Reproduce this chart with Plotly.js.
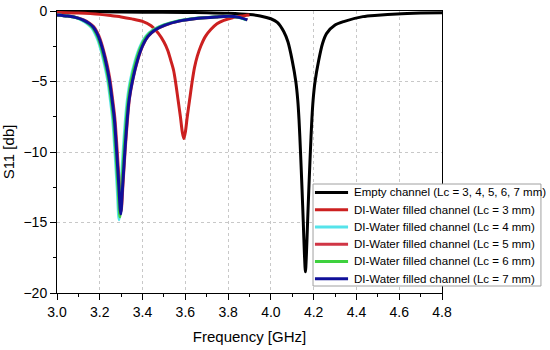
<!DOCTYPE html>
<html>
<head>
<meta charset="utf-8">
<script src="https://cdn.plot.ly/plotly-3.0.1.min.js"></script>
<style>html,body{margin:0;padding:0;background:#fff;}#chart{width:550px;height:350px;}</style>
</head>
<body>
<div id="chart"></div>
<script>
// Empty channel (Lc = 3..7 mm)
var emptyX = [3.00,3.20,3.40,3.60,3.70,3.80,3.90,3.95,4.00,4.03,4.06,4.08,4.0995,4.1165,4.1255,4.1315,4.1385,4.1455,4.1515,4.157,4.1615,4.166,4.1715,4.1775,4.1845,4.1915,4.1975,4.2065,4.2235,4.2415,4.26,4.30,4.34,4.43,4.50,4.59,4.70,4.80];
var emptyY = [-0.05,-0.06,-0.08,-0.10,-0.12,-0.16,-0.25,-0.35,-0.55,-0.80,-1.45,-2.2,-3.5,-5.0,-6.3,-7.7,-10.0,-12.6,-15.0,-17.3,-18.5,-17.3,-15.0,-12.6,-10.0,-7.7,-6.3,-5.0,-3.5,-2.3,-1.6,-1.0,-0.75,-0.40,-0.30,-0.21,-0.15,-0.12];
// DI-Water, Lc = 3 mm
var lc3X = [3.00,3.10,3.20,3.25,3.30,3.35,3.40,3.44,3.475,3.50,3.518,3.532,3.545,3.554,3.566,3.577,3.586,3.593,3.600,3.609,3.620,3.632,3.643,3.656,3.672,3.694,3.72,3.748,3.78,3.825,3.86,3.90];
var lc3Y = [-0.10,-0.15,-0.24,-0.32,-0.42,-0.56,-0.74,-1.05,-1.6,-2.2,-2.8,-3.5,-4.2,-5.0,-6.3,-7.5,-8.6,-9.05,-8.6,-7.5,-6.3,-5.0,-4.0,-3.2,-2.5,-1.8,-1.3,-0.90,-0.66,-0.46,-0.36,-0.28];
// DI-Water, Lc = 4 mm
var lc4X = [3.00,3.05,3.09,3.115,3.142,3.162,3.178,3.192,3.207,3.225,3.238,3.2495,3.2605,3.271,3.2815,3.290,3.2985,3.309,3.320,3.329,3.342,3.366,3.389,3.415,3.448,3.495,3.56,3.65,3.735,3.795,3.845,3.885];
var lc4Y = [-0.28,-0.36,-0.48,-0.65,-0.90,-1.18,-1.6,-2.1,-2.85,-4.0,-5.0,-6.3,-7.7,-10.0,-12.6,-14.8,-12.6,-10.0,-7.7,-6.3,-5.0,-3.5,-2.5,-1.8,-1.35,-1.0,-0.72,-0.52,-0.42,-0.37,-0.45,-0.63];
// DI-Water, Lc = 5 mm
var lc5X = [3.00,3.05,3.09,3.125,3.152,3.172,3.188,3.202,3.217,3.235,3.248,3.2595,3.2705,3.281,3.2915,3.300,3.3085,3.319,3.330,3.339,3.354,3.378,3.401,3.427,3.46,3.507,3.572,3.662,3.745,3.805,3.852,3.89];
var lc5Y = [-0.28,-0.36,-0.46,-0.63,-0.86,-1.12,-1.5,-2.0,-2.75,-3.85,-4.9,-6.2,-7.6,-9.8,-12.3,-14.2,-12.3,-9.8,-7.6,-6.2,-4.9,-3.45,-2.45,-1.78,-1.34,-1.0,-0.72,-0.52,-0.42,-0.37,-0.45,-0.63];
// DI-Water, Lc = 6 mm
var lc6X = [3.00,3.05,3.09,3.119,3.146,3.166,3.182,3.196,3.211,3.229,3.242,3.2535,3.2645,3.275,3.2855,3.294,3.3025,3.313,3.324,3.333,3.346,3.370,3.393,3.419,3.452,3.499,3.564,3.654,3.738,3.798,3.848,3.888];
var lc6Y = [-0.28,-0.36,-0.47,-0.64,-0.89,-1.16,-1.57,-2.07,-2.82,-3.97,-5.0,-6.3,-7.7,-10.0,-12.55,-14.6,-12.55,-10.0,-7.7,-6.3,-5.0,-3.5,-2.5,-1.8,-1.35,-1.0,-0.72,-0.52,-0.42,-0.37,-0.45,-0.63];
// DI-Water, Lc = 7 mm
var lc7X = [3.00,3.05,3.09,3.123,3.15,3.17,3.186,3.20,3.215,3.233,3.246,3.2575,3.2685,3.279,3.2895,3.298,3.3065,3.317,3.328,3.337,3.352,3.376,3.399,3.425,3.458,3.505,3.57,3.66,3.743,3.803,3.851,3.89];
var lc7Y = [-0.28,-0.36,-0.47,-0.64,-0.88,-1.15,-1.55,-2.05,-2.8,-3.95,-5.0,-6.3,-7.7,-10.0,-12.5,-14.4,-12.5,-10.0,-7.7,-6.3,-5.0,-3.5,-2.5,-1.8,-1.35,-1.0,-0.72,-0.52,-0.42,-0.37,-0.45,-0.63];

var names = [
  'Empty channel (Lc = 3, 4, 5, 6, 7 mm)',
  'DI-Water filled channel (Lc = 3 mm)',
  'DI-Water filled channel (Lc = 4 mm)',
  'DI-Water filled channel (Lc = 5 mm)',
  'DI-Water filled channel (Lc = 6 mm)',
  'DI-Water filled channel (Lc = 7 mm)'
];
var colors = ['#000000','#cc2020','#55e3ea','#d03545','#3ed13e','#10109a'];
var xs = [emptyX, lc3X, lc4X, lc5X, lc6X, lc7X];
var ys = [emptyY, lc3Y, lc4Y, lc5Y, lc6Y, lc7Y];

var traces = names.map(function(n, i){
  return {x: xs[i], y: ys[i], name: n, type: 'scatter', mode: 'lines', showlegend: false,
          line: {color: colors[i], width: 3, shape: 'spline', smoothing: 0.8}};
});

// Compact legend box (paper coordinates), matching the original's tight row spacing
var lg = {left: 0.665, right: 1.257, top: 0.3865, bottom: 0.0248,
          row0: 0.3564, rowStep: 0.06117, lineX0: 0.670, lineX1: 0.756, textX: 0.7655};
var shapes = [{type: 'rect', xref: 'paper', yref: 'paper', layer: 'above',
               x0: lg.left, x1: lg.right, y0: lg.bottom, y1: lg.top,
               fillcolor: '#ffffff', line: {color: '#a0a0a0', width: 1}}];
var annotations = [];
names.forEach(function(n, i){
  var yy = lg.row0 - i * lg.rowStep;
  shapes.push({type: 'line', xref: 'paper', yref: 'paper', layer: 'above',
               x0: lg.lineX0, x1: lg.lineX1, y0: yy, y1: yy,
               line: {color: colors[i], width: 3}});
  annotations.push({xref: 'paper', yref: 'paper', x: lg.textX, y: yy, xanchor: 'left', yanchor: 'middle',
                    text: n, showarrow: false,
                    font: {family: 'Liberation Sans, Arial, sans-serif', size: 11.5, color: '#000'}});
});

var font = {family: 'Liberation Sans, Arial, sans-serif', color: '#000', size: 14};
var layout = {
  width: 550, height: 350,
  margin: {l: 57, r: 108, t: 11, b: 57},
  paper_bgcolor: '#fff', plot_bgcolor: '#fff',
  font: font,
  showlegend: false,
  shapes: shapes,
  annotations: annotations,
  xaxis: {range: [3.0, 4.8], dtick: 0.2, tick0: 3.0, tickformat: '.1f',
          ticks: 'outside', ticklen: 6, tickwidth: 1, tickcolor: '#000',
          showline: true, linecolor: '#000', linewidth: 1, mirror: true,
          showgrid: true, gridcolor: '#c8c8c8', griddash: 'dot', gridwidth: 1,
          zeroline: false,
          minor: {dtick: 0.1, ticks: 'outside', ticklen: 3, tickcolor: '#000', showgrid: false},
          title: {text: 'Frequency [GHz]', font: {size: 15}, standoff: 12}},
  yaxis: {range: [-20, 0], dtick: 5, ticks: 'outside', ticklen: 6, tickwidth: 1, tickcolor: '#000',
          showline: true, linecolor: '#000', linewidth: 1, mirror: true,
          showgrid: true, gridcolor: '#c8c8c8', griddash: 'dot', gridwidth: 1,
          zeroline: false,
          minor: {dtick: 2.5, ticks: 'outside', ticklen: 3, tickcolor: '#000', showgrid: false},
          title: {text: 'S11 [db]', font: {size: 15}, standoff: 6}}
};
Plotly.newPlot('chart', traces, layout, {displayModeBar: false, staticPlot: true});
</script>
</body>
</html>
